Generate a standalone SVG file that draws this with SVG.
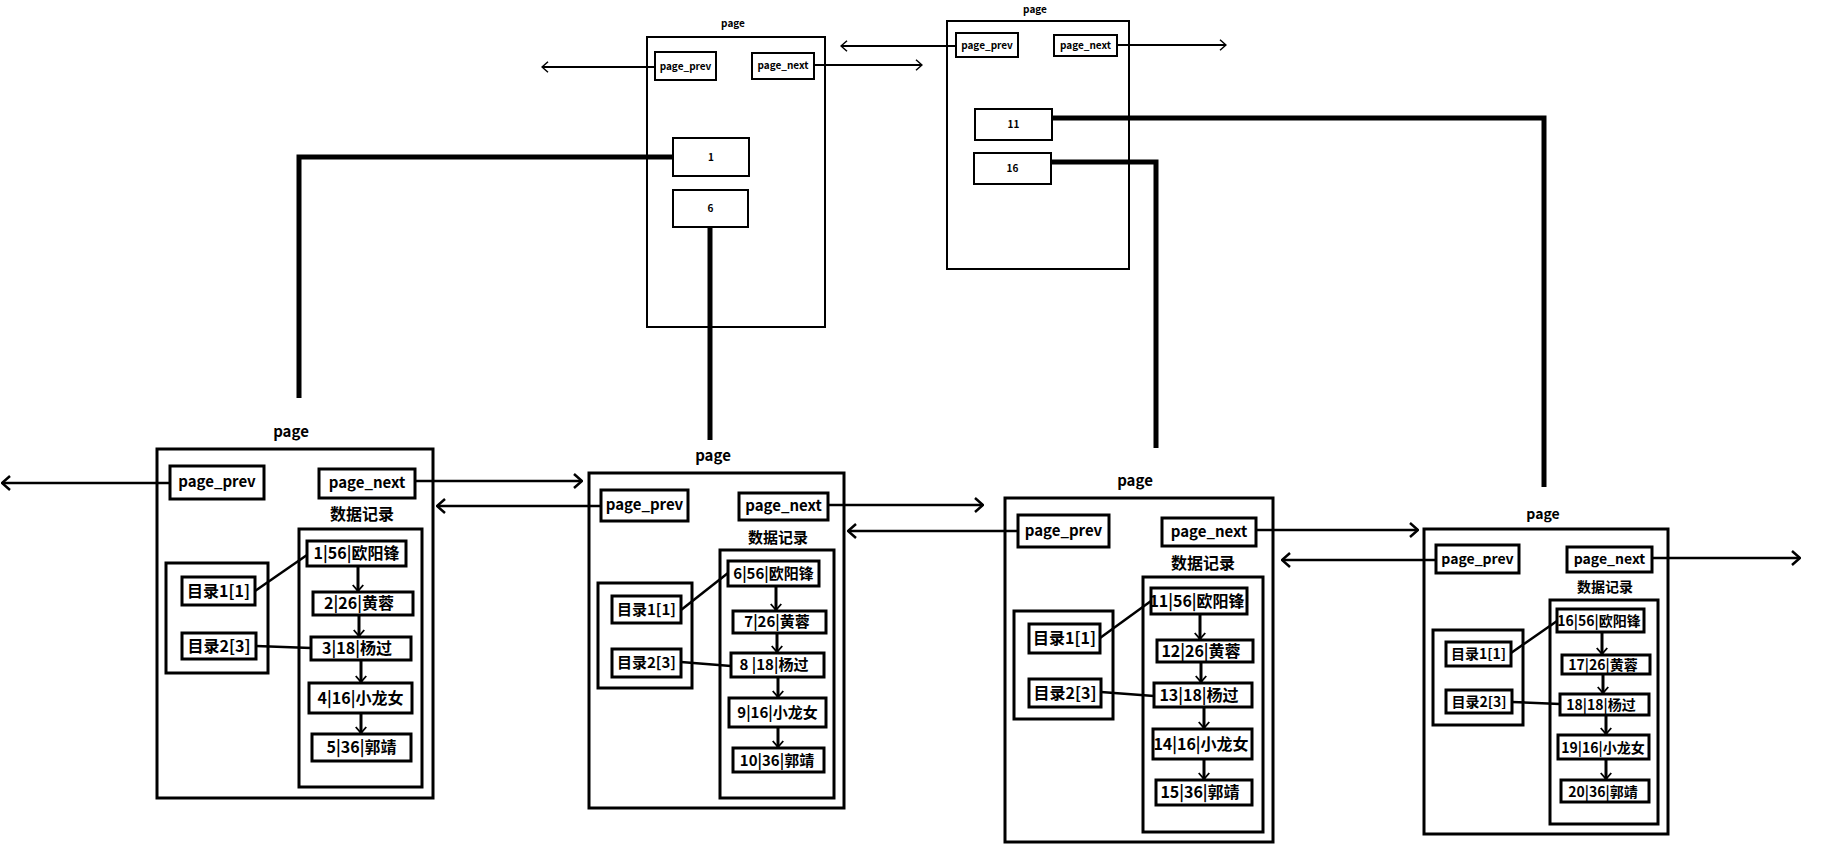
<svg xmlns="http://www.w3.org/2000/svg" width="1837" height="848" viewBox="0 0 1837 848">
<defs>
<style>
.bg{fill:#fff}
.pg{fill:none;stroke:#000;stroke-width:3}
.pgs{fill:none;stroke:#000;stroke-width:2}
.bx{fill:#fff;stroke:#000;stroke-width:3}
.bxs{fill:#fff;stroke:#000;stroke-width:2}
text{font-family:"Noto Sans CJK SC","Noto Sans",sans-serif;font-weight:bold;fill:#000;text-anchor:middle}
.t16{font-size:16px}
.t15{font-size:15px}
.t14{font-size:14px}
.t10{font-size:10px}
.ln{fill:none;stroke:#000;stroke-width:2.5}
.lns{fill:none;stroke:#000;stroke-width:1.8}
.thick{fill:none;stroke:#000;stroke-width:5}
.dl{fill:none;stroke:#000;stroke-width:2.5}
.ra{fill:none;stroke:#000;stroke-width:3}
</style>
<marker id="ah" viewBox="0 0 10 16" refX="9" refY="8" markerWidth="10" markerHeight="16" markerUnits="userSpaceOnUse" orient="auto">
<path d="M1,1 L9,8 L1,15" fill="none" stroke="#000" stroke-width="2.5"/>
</marker>
<marker id="ahs" viewBox="0 0 10 16" refX="9" refY="8" markerWidth="8" markerHeight="12" markerUnits="userSpaceOnUse" orient="auto">
<path d="M1,1 L9,8 L1,15" fill="none" stroke="#000" stroke-width="2"/>
</marker>
<marker id="ahr" viewBox="0 0 10 16" refX="9" refY="8" markerWidth="8" markerHeight="12" markerUnits="userSpaceOnUse" orient="auto">
<path d="M1,1 L9,8 L1,15" fill="none" stroke="#000" stroke-width="2.5"/>
</marker>
</defs>
<rect class="bg" x="0" y="0" width="1837" height="848"/>

<!-- Top page A -->
<g id="topPageA">
<text class="t10" x="733" y="27">page</text>
<rect class="pgs" x="647" y="37" width="178" height="290"/>
<rect class="bxs" x="655" y="52" width="61" height="28"/>
<text class="t10" x="685.5" y="70">page_prev</text>
<rect class="bxs" x="752" y="53" width="62" height="26"/>
<text class="t10" x="783" y="69">page_next</text>
<rect class="bxs" x="673" y="138" width="76" height="38"/>
<text class="t10" x="711" y="161">1</text>
<rect class="bxs" x="673" y="190" width="75" height="37"/>
<text class="t10" x="710.5" y="212">6</text>
</g>

<!-- Top page B -->
<g id="topPageB">
<text class="t10" x="1035" y="13">page</text>
<rect class="pgs" x="947" y="21" width="182" height="248"/>
<rect class="bxs" x="956" y="33" width="62" height="24"/>
<text class="t10" x="987" y="49">page_prev</text>
<rect class="bxs" x="1054" y="35" width="63" height="21"/>
<text class="t10" x="1085.5" y="49">page_next</text>
<rect class="bxs" x="975" y="109" width="77" height="31"/>
<text class="t10" x="1013.5" y="128">11</text>
<rect class="bxs" x="974" y="153" width="77" height="31"/>
<text class="t10" x="1012.5" y="172">16</text>
</g>

<!-- Page 1 -->
<g id="page1">
<text class="t15" x="291" y="437">page</text>
<rect class="pg" x="157" y="449" width="276" height="349"/>
<rect class="bx" x="170" y="466" width="94" height="33"/>
<text class="t15" x="217" y="487">page_prev</text>
<rect class="bx" x="319" y="469" width="96" height="29"/>
<text class="t15" x="367" y="488">page_next</text>
<text class="t16" x="362" y="520">数据记录</text>
<rect class="pg" x="299" y="529" width="123" height="258"/>
<rect class="pg" x="166" y="563" width="102" height="110"/>
<rect class="bx" x="182" y="577" width="73" height="28"/>
<text class="t16" x="218.5" y="597">目录1[1]</text>
<rect class="bx" x="182" y="633" width="74" height="26"/>
<text class="t16" x="219" y="652">目录2[3]</text>
<rect class="bx" x="307" y="541" width="99" height="25"/>
<text class="t16" x="356.5" y="559">1|56|欧阳锋</text>
<rect class="bx" x="313" y="592" width="100" height="23"/>
<text class="t16" x="359" y="609">2|26|黄蓉</text>
<rect class="bx" x="311" y="637" width="100" height="23"/>
<text class="t16" x="357" y="654">3|18|杨过</text>
<rect class="bx" x="309" y="683" width="103" height="30"/>
<text class="t16" x="360.5" y="704">4|16|小龙女</text>
<rect class="bx" x="312" y="734" width="99" height="27"/>
<text class="t16" x="361.5" y="753">5|36|郭靖</text>
</g>

<!-- Page 2 -->
<g id="page2">
<text class="t15" x="713" y="461">page</text>
<rect class="pg" x="589" y="473" width="255" height="335"/>
<rect class="bx" x="601" y="490" width="87" height="31"/>
<text class="t15" x="644.5" y="510">page_prev</text>
<rect class="bx" x="739" y="493" width="89" height="27"/>
<text class="t15" x="783.5" y="511">page_next</text>
<text class="t15" x="778" y="543">数据记录</text>
<rect class="pg" x="720" y="550" width="114" height="248"/>
<rect class="pg" x="598" y="583" width="94" height="105"/>
<rect class="bx" x="612" y="596" width="69" height="27"/>
<text class="t15" x="646.5" y="615">目录1[1]</text>
<rect class="bx" x="612" y="649" width="69" height="28"/>
<text class="t15" x="646.5" y="668">目录2[3]</text>
<rect class="bx" x="728" y="561" width="91" height="25"/>
<text class="t15" x="773.5" y="579">6|56|欧阳锋</text>
<rect class="bx" x="733" y="611" width="93" height="22"/>
<text class="t15" x="777" y="627">7|26|黄蓉</text>
<rect class="bx" x="731" y="653" width="93" height="24"/>
<text class="t15" x="774" y="670">8 |18|杨过</text>
<rect class="bx" x="729" y="698" width="97" height="29"/>
<text class="t15" x="777.5" y="718">9|16|小龙女</text>
<rect class="bx" x="733" y="748" width="91" height="24"/>
<text class="t15" x="777" y="766">10|36|郭靖</text>
</g>

<!-- Page 3 -->
<g id="page3">
<text class="t15" x="1135" y="486">page</text>
<rect class="pg" x="1005" y="498" width="268" height="344"/>
<rect class="bx" x="1018" y="515" width="91" height="32"/>
<text class="t15" x="1063.5" y="536">page_prev</text>
<rect class="bx" x="1162" y="518" width="94" height="28"/>
<text class="t15" x="1209" y="537">page_next</text>
<text class="t16" x="1203" y="569">数据记录</text>
<rect class="pg" x="1143" y="577" width="120" height="255"/>
<rect class="pg" x="1014" y="611" width="99" height="108"/>
<rect class="bx" x="1029" y="624" width="71" height="29"/>
<text class="t16" x="1064.5" y="644">目录1[1]</text>
<rect class="bx" x="1029" y="679" width="72" height="28"/>
<text class="t16" x="1065" y="699">目录2[3]</text>
<rect class="bx" x="1151" y="588" width="96" height="26"/>
<text class="t16" x="1197" y="607">11|56|欧阳锋</text>
<rect class="bx" x="1157" y="640" width="96" height="22"/>
<text class="t16" x="1201" y="657">12|26|黄蓉</text>
<rect class="bx" x="1154" y="683" width="98" height="24"/>
<text class="t16" x="1199" y="701">13|18|杨过</text>
<rect class="bx" x="1153" y="729" width="99" height="30"/>
<text class="t16" x="1201" y="750">14|16|小龙女</text>
<rect class="bx" x="1156" y="780" width="96" height="25"/>
<text class="t16" x="1200" y="798">15|36|郭靖</text>
</g>

<!-- Page 4 -->
<g id="page4">
<text class="t14" x="1543" y="519">page</text>
<rect class="pg" x="1424" y="529" width="244" height="305"/>
<rect class="bx" x="1436" y="545" width="83" height="28"/>
<text class="t14" x="1477.5" y="564">page_prev</text>
<rect class="bx" x="1567" y="547" width="85" height="25"/>
<text class="t14" x="1609.5" y="564">page_next</text>
<text class="t14" x="1605" y="592">数据记录</text>
<rect class="pg" x="1550" y="600" width="108" height="224"/>
<rect class="pg" x="1433" y="630" width="90" height="95"/>
<rect class="bx" x="1446" y="642" width="65" height="24"/>
<text class="t14" x="1478.5" y="659">目录1[1]</text>
<rect class="bx" x="1446" y="690" width="66" height="23"/>
<text class="t14" x="1479" y="707">目录2[3]</text>
<rect class="bx" x="1557" y="609" width="87" height="23"/>
<text class="t14" x="1599" y="626">16|56|欧阳锋</text>
<rect class="bx" x="1562" y="655" width="88" height="19"/>
<text class="t14" x="1603" y="670">17|26|黄蓉</text>
<rect class="bx" x="1560" y="694" width="89" height="21"/>
<text class="t14" x="1601" y="710">18|18|杨过</text>
<rect class="bx" x="1558" y="735" width="91" height="24"/>
<text class="t14" x="1603" y="753">19|16|小龙女</text>
<rect class="bx" x="1561" y="780" width="88" height="22"/>
<text class="t14" x="1603" y="797">20|36|郭靖</text>
</g>

<!-- Connectors -->
<g id="connectors">
<!-- top page links -->
<line class="lns" x1="655" y1="67" x2="542" y2="67" marker-end="url(#ahs)"/>
<line class="lns" x1="814" y1="65" x2="922" y2="65" marker-end="url(#ahs)"/>
<line class="lns" x1="956" y1="46" x2="841" y2="46" marker-end="url(#ahs)"/>
<line class="lns" x1="1117" y1="45" x2="1226" y2="45" marker-end="url(#ahs)"/>
<!-- index pointers -->
<polyline class="thick" points="673,157 299,157 299,398"/>
<line class="thick" x1="710" y1="227" x2="710" y2="440"/>
<polyline class="thick" points="1052,118 1544,118 1544,487"/>
<polyline class="thick" points="1051,162 1156,162 1156,448"/>
<!-- page prev/next links -->
<line class="ln" x1="170" y1="483" x2="2" y2="483" marker-end="url(#ah)"/>
<line class="ln" x1="415" y1="481" x2="582" y2="481" marker-end="url(#ah)"/>
<line class="ln" x1="601" y1="506" x2="437" y2="506" marker-end="url(#ah)"/>
<line class="ln" x1="828" y1="505" x2="983" y2="505" marker-end="url(#ah)"/>
<line class="ln" x1="1018" y1="531" x2="848" y2="531" marker-end="url(#ah)"/>
<line class="ln" x1="1256" y1="530" x2="1418" y2="530" marker-end="url(#ah)"/>
<line class="ln" x1="1436" y1="560" x2="1282" y2="560" marker-end="url(#ah)"/>
<line class="ln" x1="1652" y1="558" x2="1800" y2="558" marker-end="url(#ah)"/>
<!-- directory pointers -->
<line class="dl" x1="255" y1="591" x2="307" y2="555"/>
<line class="dl" x1="256" y1="646" x2="311" y2="648"/>
<line class="dl" x1="681" y1="610" x2="728" y2="573"/>
<line class="dl" x1="681" y1="662" x2="731" y2="666"/>
<line class="dl" x1="1100" y1="638" x2="1151" y2="601"/>
<line class="dl" x1="1101" y1="692" x2="1154" y2="696"/>
<line class="dl" x1="1511" y1="653" x2="1557" y2="621"/>
<line class="dl" x1="1512" y1="702" x2="1560" y2="704"/>
<!-- record chains -->
<line class="ra" x1="358" y1="566" x2="358" y2="591" marker-end="url(#ahr)"/>
<line class="ra" x1="359" y1="615" x2="359" y2="636" marker-end="url(#ahr)"/>
<line class="ra" x1="361" y1="660" x2="361" y2="682" marker-end="url(#ahr)"/>
<line class="ra" x1="361" y1="713" x2="361" y2="733" marker-end="url(#ahr)"/>
<line class="ra" x1="776" y1="586" x2="776" y2="610" marker-end="url(#ahr)"/>
<line class="ra" x1="777" y1="633" x2="777" y2="652" marker-end="url(#ahr)"/>
<line class="ra" x1="778" y1="677" x2="778" y2="697" marker-end="url(#ahr)"/>
<line class="ra" x1="778" y1="727" x2="778" y2="747" marker-end="url(#ahr)"/>
<line class="ra" x1="1200" y1="614" x2="1200" y2="639" marker-end="url(#ahr)"/>
<line class="ra" x1="1201" y1="662" x2="1201" y2="682" marker-end="url(#ahr)"/>
<line class="ra" x1="1204" y1="707" x2="1204" y2="728" marker-end="url(#ahr)"/>
<line class="ra" x1="1204" y1="759" x2="1204" y2="779" marker-end="url(#ahr)"/>
<line class="ra" x1="1602" y1="632" x2="1602" y2="654" marker-end="url(#ahr)"/>
<line class="ra" x1="1603" y1="674" x2="1603" y2="693" marker-end="url(#ahr)"/>
<line class="ra" x1="1606" y1="715" x2="1606" y2="734" marker-end="url(#ahr)"/>
<line class="ra" x1="1606" y1="759" x2="1606" y2="779" marker-end="url(#ahr)"/>
</g>
</svg>
